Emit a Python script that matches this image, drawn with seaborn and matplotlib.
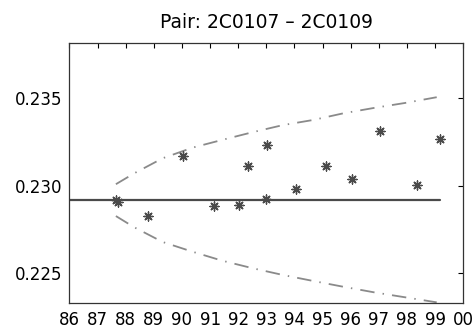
import numpy as np
import pandas as pd
from matplotlib import pyplot as plt
import seaborn as sns

# observed pair values (year, value)
years = [87.65, 87.73, 88.78, 90.02, 91.13, 92.02, 92.36, 93.03, 92.99, 94.04,
         95.13, 96.05, 97.05, 98.36, 99.16]
values = [0.22918, 0.22905, 0.22829, 0.23170, 0.22884, 0.22890, 0.23113, 0.23231,
          0.22922, 0.22980, 0.23113, 0.23040, 0.23313, 0.23002, 0.23267]

# mean level
mean_x = [86.0, 99.16]
mean_y = [0.22918, 0.22918]

# confidence envelope
env_x = [87.65, 88.30, 89.31, 90.38, 91.43, 92.51, 93.60, 94.67, 95.74, 96.84, 97.93, 99.06]
upper_y = [0.23009, 0.23071, 0.23157, 0.23218, 0.23262, 0.23306, 0.23347, 0.23376,
           0.23414, 0.23445, 0.23473, 0.23506]
lower_y = [0.22827, 0.22763, 0.22679, 0.22623, 0.22572, 0.22529, 0.22490, 0.22456,
           0.22423, 0.22391, 0.22363, 0.22334]

xticks = list(range(86, 101))
xticklabels = ['%02d' % (t % 100) for t in xticks]
yticks = [0.225, 0.230, 0.235]

sns.set_style('white')
plt.rcParams['font.family'] = ['DejaVu Sans']
plt.rcParams['text.color'] = 'black'

fig = plt.figure(figsize=(4.76, 3.33), dpi=100)
ax = fig.add_axes([0.146, 0.091, 0.827, 0.779])

dashdot = (0, (8, 4.5, 0.8, 4.5))
env = pd.DataFrame({'x': env_x, 'up': upper_y, 'lo': lower_y})
sns.lineplot(data=env, x='x', y='up', ax=ax, color='#8a8a8a', lw=1.3,
             linestyle=dashdot, sort=False, estimator=None)
sns.lineplot(data=env, x='x', y='lo', ax=ax, color='#8a8a8a', lw=1.3,
             linestyle=dashdot, sort=False, estimator=None)

sns.lineplot(x=mean_x, y=mean_y, ax=ax, color='#4a4a4a', lw=1.6, estimator=None)

pts = pd.DataFrame({'year': years, 'value': values})
sns.scatterplot(data=pts, x='year', y='value', ax=ax, marker=(8, 2, 0), s=42,
                color='#4a4a4a', linewidth=1.0, edgecolor='#4a4a4a', zorder=3)

ax.set_xlim(86, 100)
ax.set_ylim(0.22332, 0.23814)
ax.set_xticks(xticks)
ax.set_xticklabels(xticklabels)
ax.set_yticks(yticks)
ax.set_yticklabels(['%.3f' % v for v in yticks])
ax.set_xlabel('')
ax.set_ylabel('')
ax.tick_params(direction='in', length=3.5, width=0.8, color='black',
               labelcolor='black', top=True, right=True, labelsize=12)
ax.tick_params(axis='x', pad=6)
ax.tick_params(axis='y', pad=5)
for sp in ax.spines.values():
    sp.set_color('#333333')
    sp.set_linewidth(0.9)

ax.set_title('Pair: 2C0107 \u2013 2C0109', fontsize=13.5, pad=11, color='black')

fig.savefig('out.png', dpi=100)
